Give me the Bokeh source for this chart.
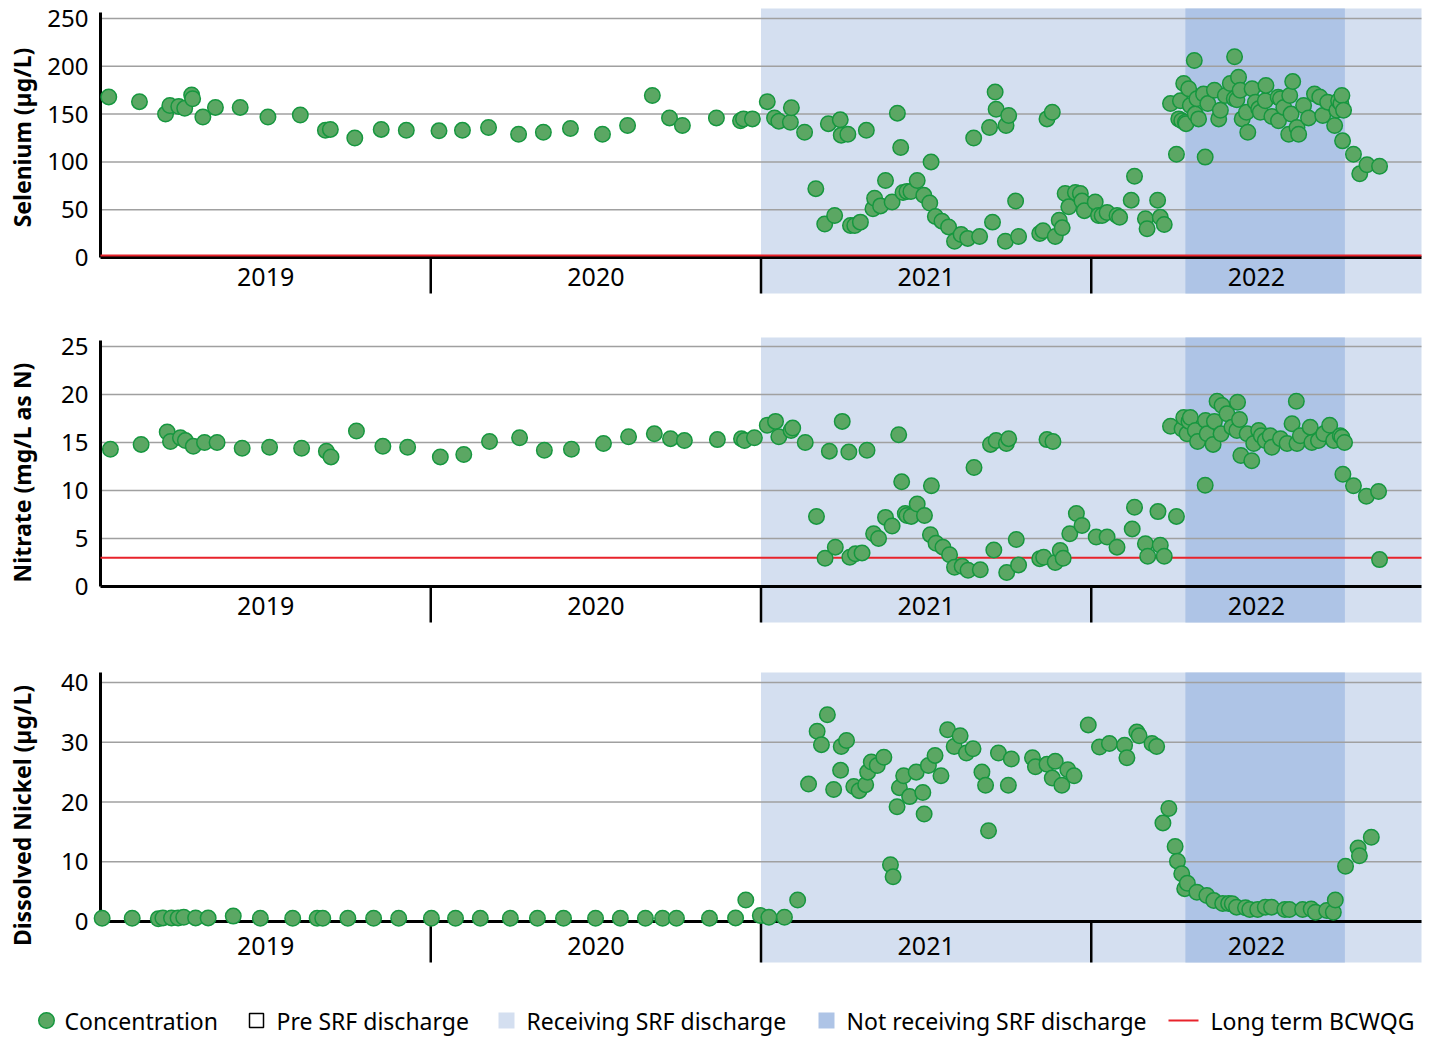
import math
from bokeh.plotting import figure
from bokeh.layouts import column
from bokeh.models import Range1d
from bokeh.core.properties import value
from bokeh.embed import file_html
from bokeh.resources import INLINE

# ------------------------------------------------------------------ data
years = [2019, 2020, 2021, 2022]
year_labels = ["2019", "2020", "2021", "2022"]

# discharge periods (decimal years)
receiving_start = 2021.0
receiving_end = 2023.0
not_receiving_start = 2022.285
not_receiving_end = 2022.768

# Selenium (ug/L), sample time as decimal year
se_time = [
    2019.025, 2019.118, 2019.197, 2019.210, 2019.237, 2019.255, 2019.276, 2019.279, 2019.310, 2019.348,
    2019.423, 2019.507, 2019.605, 2019.681, 2019.696, 2019.770, 2019.850, 2019.926,
    2020.025, 2020.096, 2020.175, 2020.266, 2020.341, 2020.423, 2020.520, 2020.596, 2020.671, 2020.723,
    2020.762, 2020.865, 2020.938, 2020.947, 2020.974,
    2021.019, 2021.041, 2021.054, 2021.089, 2021.092, 2021.132, 2021.166, 2021.193, 2021.204, 2021.223,
    2021.240, 2021.243, 2021.263, 2021.271, 2021.284, 2021.301, 2021.319, 2021.339, 2021.344, 2021.362,
    2021.377, 2021.397, 2021.413, 2021.423, 2021.430, 2021.442, 2021.454, 2021.473, 2021.493, 2021.511,
    2021.515, 2021.528, 2021.548, 2021.568, 2021.586, 2021.606, 2021.626, 2021.644, 2021.662, 2021.692,
    2021.701, 2021.709, 2021.712, 2021.740, 2021.742, 2021.750, 2021.771, 2021.780, 2021.844, 2021.854,
    2021.866, 2021.882, 2021.891, 2021.903, 2021.912, 2021.921, 2021.932, 2021.952, 2021.967, 2021.972,
    2021.979,
    2022.012, 2022.022, 2022.033, 2022.048, 2022.078, 2022.086, 2022.121, 2022.131, 2022.164, 2022.169,
    2022.201, 2022.209, 2022.221, 2022.240, 2022.258, 2022.265, 2022.270, 2022.274, 2022.280, 2022.285,
    2022.287, 2022.295, 2022.300, 2022.312, 2022.315, 2022.320, 2022.325, 2022.340, 2022.345, 2022.353,
    2022.373, 2022.386, 2022.391, 2022.406, 2022.421, 2022.433, 2022.434, 2022.441, 2022.446, 2022.451,
    2022.457, 2022.470, 2022.474, 2022.487, 2022.497, 2022.507, 2022.512, 2022.527, 2022.529, 2022.547,
    2022.566, 2022.567, 2022.573, 2022.583, 2022.598, 2022.601, 2022.605, 2022.610, 2022.623, 2022.628,
    2022.643, 2022.658, 2022.676, 2022.692, 2022.701, 2022.716, 2022.737, 2022.744, 2022.749, 2022.756,
    2022.759, 2022.761, 2022.764, 2022.794, 2022.813, 2022.835, 2022.873,
]
se_value = [
    168, 163, 150, 159, 158, 156, 170, 166, 147, 157,
    157, 147, 149, 133, 134, 125, 134, 133,
    132.5, 133, 136, 129, 131, 135, 129, 138, 169.5, 146,
    138, 146, 143, 145, 145,
    163, 146, 142.6, 141.5, 156.6, 131, 72, 35, 140, 44,
    144, 128, 129, 33.5, 33.5, 37, 133, 51, 62, 54,
    80.5, 58, 151, 115, 68, 69, 69, 80.5, 65, 57,
    100, 43, 38, 32, 17, 24, 20, 125, 22, 136,
    37, 173, 155, 17, 138, 148.5, 59, 22, 25, 28,
    145, 152, 22, 39, 31, 67, 53, 68, 67, 59,
    49,
    58, 44, 44, 47, 44, 42, 60, 85, 40.5, 30,
    60, 42, 34.5, 161, 108, 145, 164, 143, 182, 141.5,
    140, 176.5, 159, 206, 150, 166, 145, 171, 105, 161,
    175, 145, 154, 169.5, 182, 166, 210, 165, 188.6, 175,
    145, 152, 131, 176.5, 162.5, 155.5, 152, 164, 180, 147.5,
    167.7, 143, 166, 157, 129, 169.5, 150, 184, 136, 129,
    159, 146, 171, 168, 148.5, 162.5, 138, 154, 164, 161,
    169.5, 122, 154, 108, 87.5, 97, 95.5,
]
se_ticks = [0, 50, 100, 150, 200, 250]
se_guideline = 2.0

# Nitrate (mg/L as N)
no3_time = [
    2019.030, 2019.123, 2019.202, 2019.212, 2019.242, 2019.257, 2019.281, 2019.315, 2019.353, 2019.429,
    2019.512, 2019.609, 2019.684, 2019.698, 2019.775, 2019.855, 2019.930,
    2020.029, 2020.100, 2020.178, 2020.269, 2020.344, 2020.426, 2020.523, 2020.599, 2020.677, 2020.726,
    2020.768, 2020.868, 2020.941, 2020.950, 2020.980,
    2021.019, 2021.044, 2021.054, 2021.091, 2021.096, 2021.134, 2021.168, 2021.194, 2021.207, 2021.225,
    2021.246, 2021.266, 2021.269, 2021.286, 2021.306, 2021.321, 2021.341, 2021.356, 2021.377, 2021.397,
    2021.417, 2021.426, 2021.437, 2021.442, 2021.455, 2021.473, 2021.495, 2021.513, 2021.516, 2021.530,
    2021.551, 2021.571, 2021.586, 2021.609, 2021.627, 2021.645, 2021.664, 2021.695, 2021.705, 2021.712,
    2021.743, 2021.744, 2021.750, 2021.773, 2021.780, 2021.844, 2021.856, 2021.866, 2021.884, 2021.891,
    2021.906, 2021.915, 2021.935, 2021.955, 2021.972,
    2022.015, 2022.048, 2022.078, 2022.124, 2022.131, 2022.164, 2022.171, 2022.202, 2022.209, 2022.221,
    2022.240, 2022.258, 2022.275, 2022.280, 2022.290, 2022.296, 2022.300, 2022.315, 2022.322, 2022.345,
    2022.346, 2022.351, 2022.369, 2022.373, 2022.381, 2022.393, 2022.396, 2022.411, 2022.426, 2022.441,
    2022.443, 2022.449, 2022.453, 2022.472, 2022.486, 2022.492, 2022.507, 2022.515, 2022.527, 2022.542,
    2022.547, 2022.573, 2022.593, 2022.608, 2022.621, 2022.623, 2022.633, 2022.663, 2022.668, 2022.688,
    2022.704, 2022.722, 2022.734, 2022.754, 2022.759, 2022.762, 2022.767, 2022.794, 2022.833, 2022.870,
    2022.873,
]
no3_value = [
    14.3, 14.8, 16.1, 15.1, 15.5, 15.2, 14.6, 15.0, 15.0, 14.4,
    14.5, 14.4, 14.1, 13.5, 16.2, 14.6, 14.5,
    13.5, 13.75, 15.1, 15.5, 14.2, 14.3, 14.9, 15.6, 15.9, 15.4,
    15.2, 15.3, 15.4, 15.2, 15.5,
    16.8, 17.2, 15.6, 16.25, 16.5, 15.0, 7.3, 2.95, 14.1, 4.1,
    17.2, 14.0, 3.05, 3.4, 3.5, 14.2, 5.5, 5.0, 7.2, 6.3,
    15.8, 10.9, 7.6, 7.4, 7.3, 8.6, 7.4, 5.4, 10.5, 4.5,
    4.1, 3.3, 2.0, 2.1, 1.7, 12.4, 1.75, 14.8, 3.8, 15.2,
    14.9, 1.45, 15.4, 4.9, 2.25, 2.9, 3.05, 15.3, 15.1, 2.5,
    3.75, 2.95, 5.5, 7.6, 6.35,
    5.15, 5.15, 4.1, 6.0, 8.25, 4.45, 3.15, 7.8, 4.3, 3.15,
    16.7, 7.3, 16.4, 17.6, 15.9, 17.2, 17.6, 16.25, 15.1, 10.55,
    17.3, 15.9, 14.8, 17.2, 19.3, 15.9, 18.85, 18.0, 16.6, 16.25,
    19.2, 17.4, 13.65, 15.9, 13.1, 14.9, 16.25, 15.7, 15.2, 15.7,
    14.5, 15.4, 14.9, 16.95, 19.3, 14.9, 15.7, 16.6, 15.0, 15.2,
    15.9, 16.8, 15.2, 15.7, 15.55, 11.7, 15.0, 10.5, 9.4, 9.9,
    2.8,
]
no3_ticks = [0, 5, 10, 15, 20, 25]
no3_guideline = 3.0

# Dissolved nickel (ug/L)
ni_time = [
    2019.005, 2019.096, 2019.175, 2019.189, 2019.215, 2019.235, 2019.252, 2019.288, 2019.326, 2019.402,
    2019.484, 2019.582, 2019.656, 2019.673, 2019.749, 2019.827, 2019.903,
    2020.002, 2020.075, 2020.150, 2020.241, 2020.323, 2020.402, 2020.499, 2020.574, 2020.650, 2020.702,
    2020.744, 2020.844, 2020.923, 2020.954, 2020.998,
    2021.024, 2021.071, 2021.111, 2021.144, 2021.170, 2021.183, 2021.201, 2021.220, 2021.241, 2021.243,
    2021.259, 2021.281, 2021.297, 2021.317, 2021.323, 2021.334, 2021.352, 2021.372, 2021.392, 2021.400,
    2021.412, 2021.419, 2021.432, 2021.450, 2021.470, 2021.490, 2021.494, 2021.507, 2021.527, 2021.545,
    2021.565, 2021.585, 2021.603, 2021.622, 2021.642, 2021.669, 2021.680, 2021.689, 2021.719, 2021.749,
    2021.758, 2021.822, 2021.831, 2021.866, 2021.882, 2021.891, 2021.911, 2021.929, 2021.948, 2021.991,
    2022.025, 2022.055, 2022.101, 2022.108, 2022.138, 2022.145, 2022.184, 2022.198, 2022.217, 2022.235,
    2022.254, 2022.261, 2022.274, 2022.283, 2022.291, 2022.320, 2022.350, 2022.371, 2022.398, 2022.416,
    2022.427, 2022.440, 2022.467, 2022.480, 2022.504, 2022.527, 2022.546, 2022.586, 2022.600, 2022.640,
    2022.666, 2022.679, 2022.713, 2022.733, 2022.739, 2022.770, 2022.808, 2022.812, 2022.848,
]
ni_value = [
    0.55, 0.55, 0.45, 0.6, 0.6, 0.6, 0.7, 0.6, 0.6, 0.9,
    0.55, 0.55, 0.55, 0.55, 0.55, 0.55, 0.55,
    0.55, 0.55, 0.55, 0.55, 0.55, 0.55, 0.55, 0.55, 0.55, 0.55,
    0.55, 0.55, 0.6, 3.6, 1.0,
    0.7, 0.7, 3.6, 23.0, 31.85, 29.6, 34.6, 22.1, 25.3, 29.3,
    30.3, 22.6, 21.9, 22.9, 25.0, 26.7, 26.1, 27.5, 9.5, 7.5,
    19.2, 22.4, 24.4, 20.9, 25.0, 21.6, 18.0, 26.1, 27.8, 24.4,
    32.1, 29.3, 31.1, 28.2, 28.9, 25.0, 22.8, 15.2, 28.2, 22.8,
    27.2, 27.4, 25.9, 26.3, 24.0, 26.8, 22.8, 25.4, 24.4, 32.9,
    29.2, 29.8, 29.5, 27.4, 31.7, 31.1, 29.8, 29.3, 16.5, 18.9,
    12.55, 10.1, 8.0, 5.5, 6.4, 4.9, 4.35, 3.5, 3.0, 3.0,
    2.96, 2.4, 2.3, 2.0, 2.0, 2.4, 2.4, 2.0, 2.0, 2.0,
    2.1, 1.55, 1.85, 1.55, 3.6, 9.25, 12.3, 11.0, 14.1,
]
ni_ticks = [0, 10, 20, 30, 40]

assert len(se_time) == len(se_value)
assert len(no3_time) == len(no3_value)
assert len(ni_time) == len(ni_value)

legend_labels = ["Concentration", "Pre SRF discharge", "Receiving SRF discharge",
                 "Not receiving SRF discharge", "Long term BCWQG"]

# ------------------------------------------------------------------ style / layout
FONT = "Noto Sans"
GREEN_FILL = "#5ba763"
GREEN_LINE = "#16973f"
LIGHT = "#d4dff0"
DARK = "#aec4e6"
GRID = "#a0a0a0"
RED = "#e8232b"

W = 1429
PX_PER_YEAR = 330.25
AXIS_LEFT_PX = 100                      # where 2019-01-01 sits
X_START = years[0] - AXIS_LEFT_PX / PX_PER_YEAR
X_END = X_START + W / PX_PER_YEAR
X_STOP = 2023.0                         # right end of the chart


def make_panel(t, v, ticks, title, guideline, H, y0_px, ppu,
               shade_top_px, shade_bot_px, spine_top_px, year_px, title_px):
    def val(px):
        return (y0_px - px) / ppu

    p = figure(width=W, height=H,
               x_range=Range1d(X_START, X_END), y_range=Range1d(val(H), val(0)),
               output_backend="svg", toolbar_location=None,
               x_axis_location=None, y_axis_location=None,
               min_border_left=0, min_border_right=0,
               min_border_top=0, min_border_bottom=0)
    p.outline_line_color = None
    p.background_fill_color = "white"
    p.border_fill_color = "white"
    p.grid.visible = False

    y_lo, y_hi = val(shade_bot_px), val(shade_top_px)

    # discharge periods
    p.quad(left=[receiving_start], right=[receiving_end], bottom=[y_lo], top=[y_hi],
           fill_color=LIGHT, line_color=None)
    p.quad(left=[not_receiving_start], right=[not_receiving_end], bottom=[y_lo], top=[y_hi],
           fill_color=DARK, line_color=None)

    # grid lines
    gvals = [tk for tk in ticks if tk > 0]
    p.segment(x0=[years[0]] * len(gvals), x1=[X_STOP] * len(gvals), y0=gvals, y1=gvals,
              line_color=GRID, line_width=1.5)

    # axis lines, year separators
    p.segment(x0=[years[0]], x1=[X_STOP], y0=[0], y1=[0], line_color="black", line_width=3)
    p.segment(x0=[years[0]], x1=[years[0]], y0=[0], y1=[val(spine_top_px)],
              line_color="black", line_width=3)
    sep = years[1:]
    p.segment(x0=sep, x1=sep, y0=[0] * len(sep), y1=[y_lo] * len(sep),
              line_color="black", line_width=2.5)

    if guideline is not None:
        p.segment(x0=[years[0]], x1=[X_STOP], y0=[guideline], y1=[guideline],
                  line_color=RED, line_width=2)

    # tick labels
    p.text(x=[years[0]] * len(ticks), y=ticks, text=[str(tk) for tk in ticks],
           x_offset=-12, text_align="right", text_baseline="middle",
           text_font=value(FONT), text_font_size="24px", text_color="black")

    # year labels
    p.text(x=[yr + 0.5 for yr in years], y=[0] * len(years), text=year_labels,
           y_offset=year_px - y0_px, text_align="center", text_baseline="middle",
           text_font=value(FONT), text_font_size="25px", text_color="black")

    # axis title
    p.text(x=[years[0]], y=[val(title_px)], text=[title], x_offset=-79,
           angle=math.pi / 2, text_align="center", text_baseline="middle",
           text_font=value(FONT), text_font_style="bold", text_font_size="23px",
           text_color="black")

    p.scatter(t, v, size=15.5, marker="circle", fill_color=GREEN_FILL,
              line_color=GREEN_LINE, line_width=1.5)
    return p


p1 = make_panel(se_time, se_value, se_ticks, "Selenium (µg/L)", se_guideline,
                H=315, y0_px=257, ppu=239 / 250, shade_top_px=8, shade_bot_px=293,
                spine_top_px=12, year_px=276, title_px=137)
p2 = make_panel(no3_time, no3_value, no3_ticks, "Nitrate (mg/L as N)", no3_guideline,
                H=332, y0_px=271, ppu=240 / 25, shade_top_px=22, shade_bot_px=307,
                spine_top_px=25, year_px=290, title_px=157)
p3 = make_panel(ni_time, ni_value, ni_ticks, "Dissolved Nickel (µg/L)", None,
                H=328, y0_px=274, ppu=239 / 40, shade_top_px=25, shade_bot_px=315,
                spine_top_px=25, year_px=298, title_px=168)

# ------------------------------------------------------------------ legend
LH = 65
leg = figure(width=W, height=LH, x_range=Range1d(0, W), y_range=Range1d(0, LH),
             output_backend="svg", toolbar_location=None,
             x_axis_location=None, y_axis_location=None,
             min_border_left=0, min_border_right=0, min_border_top=0, min_border_bottom=0)
leg.outline_line_color = None
leg.grid.visible = False
ly = 20
leg.scatter([46], [ly], size=15.5, marker="circle", fill_color=GREEN_FILL,
            line_color=GREEN_LINE, line_width=1.5)
leg.scatter([256], [ly], size=14, marker="square", fill_color="white",
            line_color="black", line_width=1.5)
leg.scatter([506], [ly], size=16, marker="square", fill_color=LIGHT, line_color=None)
leg.scatter([826], [ly], size=16, marker="square", fill_color=DARK, line_color=None)
leg.segment(x0=[1168], x1=[1198], y0=[ly], y1=[ly], line_color=RED, line_width=2)
leg.text(x=[64, 276, 526, 846, 1210], y=[ly] * 5, text=legend_labels,
         text_align="left", text_baseline="middle", text_font=value(FONT),
         text_font_size="23px", text_color="black")

layout = column(p1, p2, p3, leg)
open("out.html", "w").write(file_html(layout, INLINE))
